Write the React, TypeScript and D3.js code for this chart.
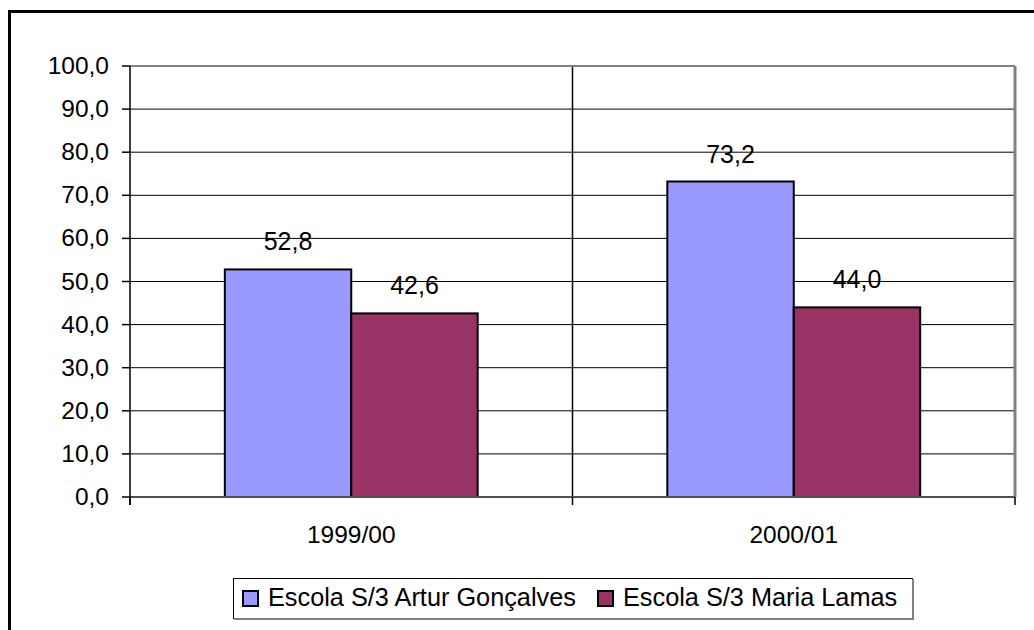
import React from "react";
import * as d3 from "d3";

const categories = ["1999/00", "2000/01"];
const seriesNames = ["Escola S/3 Artur Gonçalves", "Escola S/3 Maria Lamas"];
const seriesA = [52.8, 73.2];
const seriesB = [42.6, 44.0];
const seriesColors = ["#9999FF", "#993366"];
const yTicks = [0, 10, 20, 30, 40, 50, 60, 70, 80, 90, 100];

const W = 1034;
const H = 630;
const plot = { left: 130, right: 1015, top: 66, bottom: 497 };
const FONT = "'Liberation Sans', Arial, sans-serif";

export default function App() {
  const x0 = d3
    .scaleBand<string>()
    .domain(categories)
    .range([plot.left, plot.right])
    .paddingInner(0)
    .paddingOuter(0);
  const inner = d3
    .scaleBand<number>()
    .domain([0, 1])
    .range([0, x0.bandwidth()])
    .paddingOuter(0.75)
    .paddingInner(0);
  const y = d3.scaleLinear().domain([0, 100]).range([plot.bottom, plot.top]);
  const fmt = (v: number) => v.toFixed(1).replace(".", ",");
  const series = [seriesA, seriesB];

  const legendX = 233;
  const legendY = 578;

  return (
    <svg
      width={W}
      height={H}
      style={{ position: "absolute", left: 0, top: 0, background: "#fff" }}
      fontFamily={FONT}
    >
      <rect x={0} y={0} width={W} height={H} fill="#fff" />
      {/* outer frame */}
      <rect x={9.5} y={11.5} width={1040} height={640} fill="none" stroke="#000" strokeWidth={3} />

      {/* horizontal gridlines */}
      {yTicks.slice(1, -1).map((t) => (
        <line key={"g" + t} x1={plot.left} x2={plot.right} y1={y(t)} y2={y(t)} stroke="#000" strokeWidth={1} />
      ))}
      {/* vertical category gridline */}
      {categories.slice(1).map((c) => (
        <line key={"vg" + c} x1={x0(c)!} x2={x0(c)!} y1={plot.top} y2={plot.bottom} stroke="#000" strokeWidth={1.5} />
      ))}

      {/* plot area border */}
      <line x1={plot.left} x2={plot.right} y1={plot.top} y2={plot.top} stroke="#808080" strokeWidth={2} />
      <line x1={plot.right} x2={plot.right} y1={plot.top} y2={plot.bottom} stroke="#808080" strokeWidth={3} />

      {/* bars */}
      {categories.map((c, ci) =>
        series.map((s, si) => {
          const bx = x0(c)! + inner(si)!;
          const bw = inner.bandwidth();
          return (
            <rect
              key={c + si}
              x={bx}
              y={y(s[ci])}
              width={bw}
              height={y(0) - y(s[ci])}
              fill={seriesColors[si]}
              stroke="#000"
              strokeWidth={2}
            />
          );
        })
      )}

      {/* x axis */}
      <line x1={plot.left} x2={plot.right} y1={plot.bottom} y2={plot.bottom} stroke="#505050" strokeWidth={2} />
      {[...categories.map((c) => x0(c)!), plot.right].map((xv, i) => (
        <line key={"xt" + i} x1={xv} x2={xv} y1={plot.bottom} y2={plot.bottom + 8} stroke="#000" strokeWidth={1.5} />
      ))}
      {/* y axis */}
      <line x1={plot.left} x2={plot.left} y1={plot.top} y2={plot.bottom + 8} stroke="#000" strokeWidth={1.5} />
      {yTicks.map((t) => (
        <g key={"yt" + t}>
          <line x1={plot.left - 8} x2={plot.left} y1={y(t)} y2={y(t)} stroke="#000" strokeWidth={1.5} />
          <text x={109} y={y(t) + 8} textAnchor="end" fontSize={24.5} fill="#000">
            {fmt(t)}
          </text>
        </g>
      ))}

      {/* category labels */}
      {categories.map((c) => (
        <text key={"cl" + c} x={x0(c)! + x0.bandwidth() / 2} y={543} textAnchor="middle" fontSize={24.5} fill="#000">
          {c}
        </text>
      ))}

      {/* data labels */}
      {categories.map((c, ci) =>
        series.map((s, si) => (
          <text
            key={"dl" + c + si}
            x={x0(c)! + inner(si)! + inner.bandwidth() / 2}
            y={y(s[ci]) - 19}
            textAnchor="middle"
            fontSize={25}
            fill="#000"
          >
            {fmt(s[ci])}
          </text>
        ))
      )}

      {/* legend */}
      <rect x={legendX + 0.5} y={legendY + 0.5} width={679} height={40} fill="#fff" stroke="#000" strokeWidth={1} />
      <line x1={legendX + 1} x2={legendX + 680} y1={legendY + 41} y2={legendY + 41} stroke="#808080" strokeWidth={2} />
      <line x1={legendX + 680} x2={legendX + 680} y1={legendY + 1} y2={legendY + 42} stroke="#808080" strokeWidth={2} />
      {seriesNames.map((n, i) => {
        const ox = i === 0 ? 243 : 598;
        return (
          <g key={"lg" + i}>
            <rect x={ox} y={591} width={15} height={15} fill={seriesColors[i]} stroke="#000" strokeWidth={2} />
            <text x={ox + 25} y={606} fontSize={25.3} fill="#000">
              {n}
            </text>
          </g>
        );
      })}
    </svg>
  );
}
